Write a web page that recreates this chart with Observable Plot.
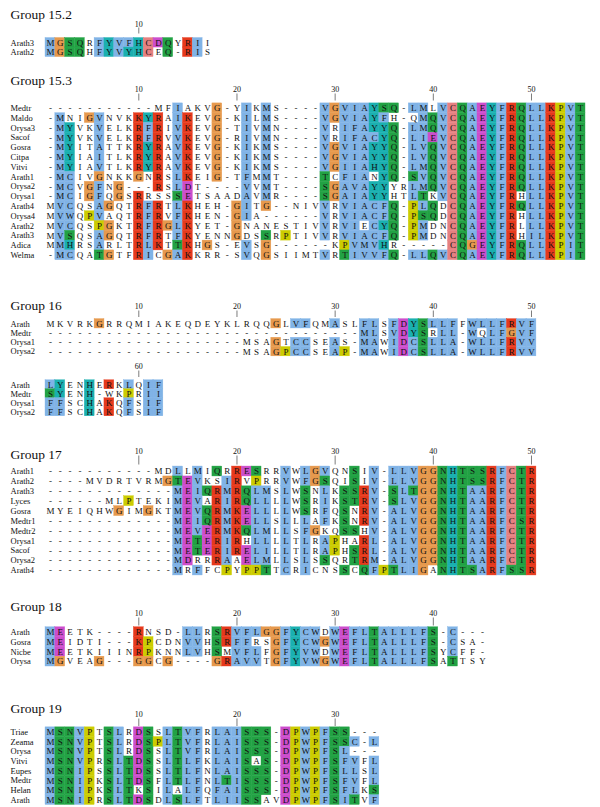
<!DOCTYPE html>
<html><head><meta charset="utf-8">
<script src="https://cdn.jsdelivr.net/npm/d3@7"></script>
<script src="https://cdn.jsdelivr.net/npm/@observablehq/plot@0.6"></script>
<style>
html,body{margin:0;padding:0;background:#fff;}
#chart{width:600px;height:807px;overflow:hidden;}
</style>
</head><body><div id="chart"></div>
<script>
// ---------- DATA ----------
const groupTitles = ["Group 15.2", "Group 15.3", "Group 16", "Group 17", "Group 18", "Group 19"];

const g152Names = ["Arath3", "Arath2"];
const g152Seqs = [
  "MGSQRFYVFHCDQYRII",
  "MGSQHFYVYHCEQ-RIS"
];
const g152Ticks = [10];

const g153Names = ["Medtr","Maldo","Orysa3","Sacof","Gosra","Citpa","Vitvi","Arath1","Orysa2","Orysa1","Arath4","Orysa4","Arath2","Arath3","Adica","Welma"];
const g153Seqs = [
  "-----------MFIAKVG-YIKMS----VGVIAYSQ-LMLVCQAEYFRQLLKPVT",
  "-MNIGVNVKKYRAIKEVG-KILMS----VGVIAYFH-QMQVCQAEYFRQLLKPVT",
  "-MYVKVELKRFRIVKEVG-TIVMN----VRIFAYYQ-LMQVCQAEYFRQLLKPVT",
  "-MYVKVELKRFRVVKEVG-RIVMN----VRIFACYQ-LIEVCQAEYFRQLLKPVT",
  "-MYITATTKRYRAVKEVG-KIKMS----VGVIAYYQ-LVQVCQAEYFRQLLKPVT",
  "-MYIAITLKRYRAVKEVG-KIKMS----VGVIAYYQ-LVQVCQAEYFRQLLKPVT",
  "-MYIAVTLKRYRAVKEVG-KIKMS----VGIIAHYQ-LMQVCQAEYFRQLLKPVT",
  "-MCIVGNKKGNRSLKEIG-TFMMT----TCFIANYQ-SVQVCQAEYFRQLLKPVT",
  "-MCVGFNG---RSLDT----VVMT----SGAVAYYYRLMQVCQAEYFRQLLKPVT",
  "-MCIGFQGSRRSSSETSAADAVMR----SGAIAYYHTLTKVCQAEYFRHLLKPVT",
  "MVCQSAGQTRFRTLKHEH-GITG--NIVVRVIACFQ-PLQDCQAEYFRQLLKPVT",
  "MVWQPVAQTRFRVFKHEN-GIA------VRVIACFQ-PSQDCQAEYFRHLLKPVT",
  "MVCQSPGKTRFRGLKYET-GNANESTIVVRVIECYQ-PMDNCQAEYFRLLLKPVT",
  "MVSQSAGQTRFRTFKYENNGDSSRPTIVVRVIACFQ-PMDNCQAEYFRHILKPVT",
  "MMHRSARLTRLKTTKHGS-EVSG------KPVMVHR-----CQGEYFRQLLKPIT",
  "-MCQATGTFRICGAKKRR-SVQGSIIMTVRTIVVFQ-LLQVCQAEYFRQLLKPIT"
];
const g153Ticks = [10, 20, 30, 40, 50];

const g16Names = ["Arath","Medtr","Orysa1","Orysa2"];
const g16Seqs = [
  "MKVRKGRRQMIAKEQDEYKLRQQGLVFQMASLFLSFDYSLLFFWLLFRVFLYENHERKLQIF",
  "--------------------------------MLSVDYSRLL-WQLFGVFSYENH-WKPRII",
  "--------------------MSAGTCCSEAS-MAWIDCSLLA-WLLFRVVFFSCHAKQFSIF",
  "--------------------MSAGPCCSEAP-MAWIDCSLLA-WLLFRVVFFSCHAKQFSIF"
];
const g16Ticks = [10, 20, 30, 40, 50, 60];

const g17Names = ["Arath1","Arath2","Arath3","Lyces","Gosra","Medtr1","Medtr2","Orysa1","Sacof","Orysa2","Arath4"];
const g17Seqs = [
  "-----------MDLLMIQRRESRRVWLGVQNSIV-LLVGGNHTSSRFCTR",
  "----MVDRTVRMGTEVKSIRVPRRVWFGSQISIV-LLVGGNHTSSRFCTR",
  "-------------MEIQRMRQLMSLWSNLKSSRV-SLTGGNHTAARFCTR",
  "------MLPTEKIMEVARIRQLLLLWSRIKSTRV-SLVGGNHTAARFCTR",
  "MYEIQHWGIMGKTMEVQRMKELLLLWSRFQSNRV-ALVGGNHTAARFCTR",
  "-------------MEIQRMKELLSLLLAFKSNRV-ALVGGNHTAARFCSR",
  "-------------MEVERMKQLMLLSFGKQSSHV-ALVGGNHTAARFCTR",
  "-------------METERIRHLLLLTLRAPHARL-ALVGGNHTAARFCTR",
  "-------------METERIRELILLTLRAPHSRL-ALVGGNHTAARFCTR",
  "-------------MDRRRAAELMLLSLSSQRTRM-ALVGGNHTAARFCTR",
  "-------------MRFFCPYPPTTCRICNSSCQFPTLIGANHTSARFSSR"
];
const g17Ticks = [10, 20, 30, 40, 50];

const g18Names = ["Arath","Gosra","Nicbe","Orysa"];
const g18Seqs = [
  "MEETK----RNSD-LLRSRVFLGGFYCWDWEFLTALLLFS-C---",
  "MEIDTI---KPCDNVVHSRFFRSGFYCWGWEFLTALLLFS-CSA-",
  "MEETKIIINRPKNNLVHSMVFLFGFYVWDWEFLTALLLFSYCFF-",
  "MGVEAG---GGCG----GRAVVTGFYVWGWEFLTALLLFSATTSY"
];
const g18Ticks = [10, 20, 30, 40];

const g19Names = ["Triae","Zeama","Orysa","Vitvi","Eupes","Medtr","Helan","Arath"];
const g19Seqs = [
  "MSNVPTSLRDSSLTVFRLAISSS-DPWPFSS---",
  "MSNVPTSLRDSPLTVFRLAISSS-DPWPFSSC-L",
  "MSNVPTSLRDSSLTVFRLAISSS-DPWPFSL---",
  "MSNVPRSLTDSSLTLFKLAISAS-DPWPFSFVFL",
  "MSNIPSSLTDSSLTLFNLAISSS-DPWPFSLLSL",
  "MSNIPKSLTDSFLTLFNLTISSS-DPWPFSFVFL",
  "MSNIPKSLTKSILALFQFAISSS-DPWPFSFLKS",
  "MSNIPRSLTDSDLSLFTLIISSAVDPWPFSITVF"
];
const g19Ticks = [10, 20, 30];

// ---------- LAYOUT / STYLE ----------
const SERIF = "'Liberation Serif', 'Times New Roman', Times, serif";
const COLW = 9.8175, COL1X = 49.94;
const LABEL_DX = 10 - COL1X;
const C = {
  blue: "#80b3e6", red: "#e6391c", green: "#22a244", orange: "#e6994d",
  cyan: "#1ab0b0", pink: "#e68080", magenta: "#cc4dcc", yellow: "#cccc00"
};
const layouts = [
  {titleY: 18.5, blocks: [{from: 1, to: 17, labelY: 26, tickTop: 27.5, tickBot: 33.5, row0: 42.3, pitch: 9.5}]},
  {titleY: 84.5, blocks: [{from: 1, to: 55, labelY: 91.5, tickTop: 93.5, tickBot: 100.5, row0: 107.8, pitch: 9.8}]},
  {titleY: 309.5, blocks: [
    {from: 1, to: 50, labelY: 308.5, tickTop: 310.5, tickBot: 317, row0: 323.3, pitch: 9.3},
    {from: 51, to: 62, labelY: 368.5, tickTop: 370.5, tickBot: 377, row0: 384.3, pitch: 9.0}]},
  {titleY: 458, blocks: [{from: 1, to: 50, labelY: 453.5, tickTop: 455.5, tickBot: 464.5, row0: 471, pitch: 9.9}]},
  {titleY: 610, blocks: [{from: 1, to: 45, labelY: 615.5, tickTop: 617.5, tickBot: 625.5, row0: 631.7, pitch: 9.8}]},
  {titleY: 712, blocks: [{from: 1, to: 34, labelY: 716.5, tickTop: 718.5, tickBot: 726, row0: 731.7, pitch: 9.7}]}
];

const groups = [
  {title: groupTitles[0], names: g152Names, seqs: g152Seqs, ticks: g152Ticks},
  {title: groupTitles[1], names: g153Names, seqs: g153Seqs, ticks: g153Ticks},
  {title: groupTitles[2], names: g16Names, seqs: g16Seqs, ticks: g16Ticks},
  {title: groupTitles[3], names: g17Names, seqs: g17Seqs, ticks: g17Ticks},
  {title: groupTitles[4], names: g18Names, seqs: g18Seqs, ticks: g18Ticks},
  {title: groupTitles[5], names: g19Names, seqs: g19Seqs, ticks: g19Ticks}
];

// Clustal X colouring (Jalview rules, gaps counted in the column total)
const HYD = "WLVIMAFCYHP";
function clustalColour(ch, cnt, n) {
  const pct = s => { let t = 0; for (const c of s) t += cnt[c] || 0; return 100 * t / n; };
  const s85 = c => pct(c) > 85;
  const hyd60 = pct(HYD) > 60, KR60 = pct("KR") > 60, QE50 = pct("QE") > 50,
        ED50 = pct("ED") > 50, TS50 = pct("TS") > 50, N50 = pct("N") > 50;
  switch (ch) {
    case "G": return C.orange;
    case "P": return C.yellow;
    case "C": return s85("C") ? C.pink : (hyd60 ? C.blue : null);
    case "A": case "I": case "L": case "M": case "F": case "W": case "V": return hyd60 ? C.blue : null;
    case "K": case "R": return (KR60 || s85("K") || s85("R") || s85("Q")) ? C.red : null;
    case "E": return (KR60 || QE50 || s85("E") || s85("Q") || s85("D")) ? C.magenta : null;
    case "D": return (KR60 || s85("K") || s85("R") || s85("Q") || ED50) ? C.magenta : null;
    case "N": return (N50 || s85("N") || s85("Y")) ? C.green : null;
    case "Q": return (KR60 || QE50 || s85("Q") || s85("T") || s85("K") || s85("R")) ? C.green : null;
    case "S": case "T": return (hyd60 || TS50 || s85("S") || s85("T")) ? C.green : null;
    case "H": case "Y": return (hyd60 || [..."WYACPQFHILMV"].some(s85)) ? C.cyan : null;
  }
  return null;
}

const cells = [], labels = [], tickRows = [], titleRows = [];
groups.forEach((g, gi) => {
  const L = layouts[gi];
  titleRows.push({text: g.title, y: L.titleY, x0: 1});
  const n = g.seqs.length, len = g.seqs[0].length;
  const colours = g.seqs.map(() => []);
  for (let c = 0; c < len; c++) {
    const cnt = {};
    for (const s of g.seqs) cnt[s[c]] = (cnt[s[c]] || 0) + 1;
    g.seqs.forEach((s, i) => { colours[i][c] = clustalColour(s[c], cnt, n); });
  }
  for (const B of L.blocks) {
    g.names.forEach((name, i) => {
      const y = B.row0 + i * B.pitch;
      labels.push({name, y, x0: 1});
      for (let c = B.from; c <= B.to; c++) {
        cells.push({dc: c - B.from + 1, y, h: B.pitch, ch: g.seqs[i][c - 1], fill: colours[i][c - 1]});
      }
    });
    for (const t of g.ticks) if (t >= B.from && t <= B.to)
      tickRows.push({dc: t - B.from + 1, label: String(t), labelY: B.labelY, y1: B.tickTop, y2: B.tickBot});
  }
});

const chart = Plot.plot({
  width: 600, height: 807,
  marginTop: 0, marginRight: 0, marginBottom: 0, marginLeft: 0,
  x: {type: "linear", domain: [1, 55], range: [COL1X, COL1X + 54 * COLW], axis: null},
  y: {type: "linear", domain: [0, 807], range: [0, 807], axis: null},
  color: {type: "identity"},
  style: {background: "#fff", fontFamily: SERIF, color: "#111"},
  marks: [
    Plot.rect(cells.filter(d => d.fill), {
      x1: d => d.dc - 0.5, x2: d => d.dc + 0.5,
      y1: d => d.y - d.h / 2, y2: d => d.y + d.h / 2,
      fill: "fill", stroke: "fill", strokeWidth: 0.4
    }),
    Plot.text(cells, {x: "dc", y: "y", text: "ch", fontSize: 9, fontFamily: SERIF, fill: "#111"}),
    Plot.text(labels, {x: "x0", dx: LABEL_DX, y: "y", text: "name", textAnchor: "start", fontSize: 8.5, fontFamily: SERIF, fill: "#111"}),
    Plot.ruleX(tickRows, {x: "dc", y1: "y1", y2: "y2", stroke: "#444", strokeWidth: 0.7}),
    Plot.text(tickRows, {x: "dc", y: "labelY", text: "label", lineAnchor: "bottom", fontSize: 8, fontFamily: SERIF, fill: "#111"}),
    Plot.text(titleRows, {x: "x0", dx: LABEL_DX, y: "y", text: "text", textAnchor: "start", lineAnchor: "bottom", fontSize: 13.5, fontFamily: SERIF, fill: "#111"})
  ]
});
document.getElementById("chart").appendChild(chart);
</script>
</body></html>
